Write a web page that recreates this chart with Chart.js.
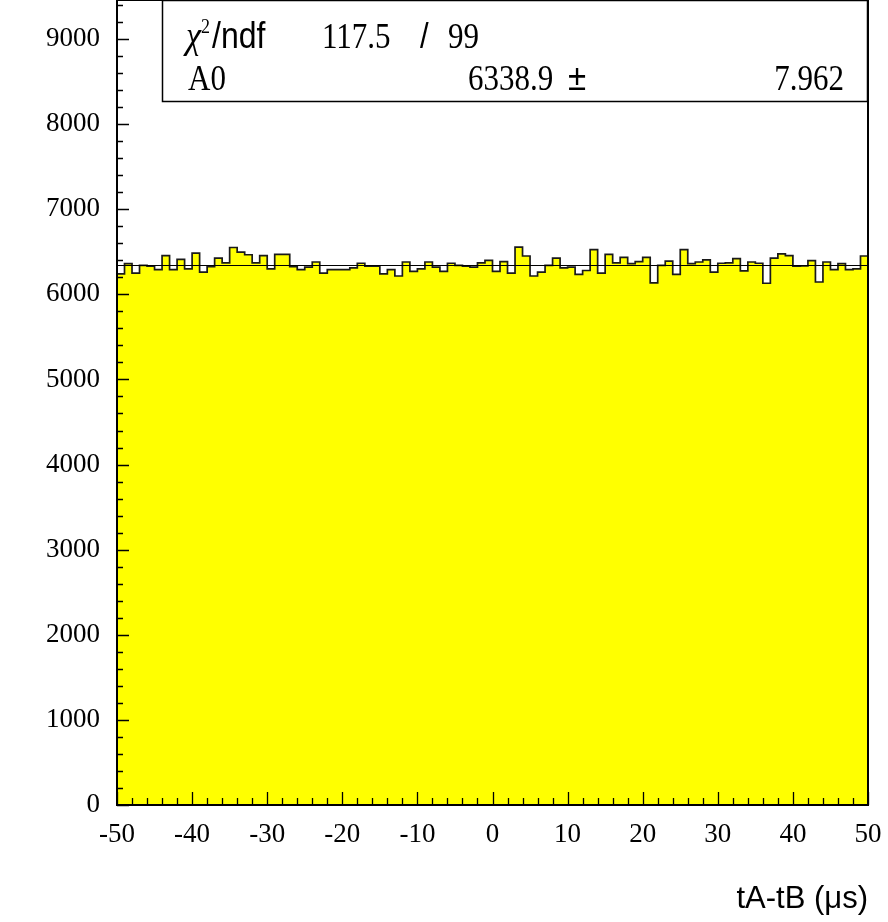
<!DOCTYPE html>
<html>
<head>
<meta charset="utf-8">
<script src="https://cdn.jsdelivr.net/npm/chart.js@4.4.0/dist/chart.umd.min.js"></script>
<style>
  html, body { margin: 0; padding: 0; background: #fff; }
</style>
</head>
<body>
<canvas id="histo" width="888" height="922"></canvas>
<script>
// tA-tB time difference, 100 bins of 1 us from -50 to 50, fitted with a constant (A0)
const binLow = -50;
const binHigh = 50;
const binWidth = 1;

// bin contents
const counts = [
  6240, 6360, 6250, 6340, 6330, 6290, 6455, 6290, 6410, 6300,
  6485, 6260, 6325, 6425, 6370, 6550, 6495, 6465, 6370, 6455,
  6300, 6470, 6470, 6325, 6290, 6320, 6380, 6250, 6290, 6290,
  6290, 6310, 6365, 6330, 6330, 6240, 6290, 6215, 6380, 6270,
  6300, 6380, 6320, 6270, 6365, 6340, 6330, 6320, 6370, 6400,
  6270, 6385, 6250, 6555, 6450, 6215, 6260, 6340, 6425, 6310,
  6320, 6235, 6280, 6525, 6250, 6470, 6370, 6435, 6360, 6385,
  6435, 6135, 6340, 6390, 6235, 6525, 6360, 6380, 6405, 6260,
  6365, 6370, 6420, 6275, 6380, 6365, 6130, 6425, 6475, 6455,
  6330, 6335, 6395, 6145, 6380, 6290, 6360, 6290, 6300, 6450
];

// fit result
const fitA0 = 6338.9;
const fitA0Err = "7.962";
const chi2 = "117.5";
const ndf = "99";

const yTicks = [0, 1000, 2000, 3000, 4000, 5000, 6000, 7000, 8000, 9000];
const xTicks = [-50, -40, -30, -20, -10, 0, 10, 20, 30, 40, 50];
const yMax = 9458;
const yMinorStep = 200;
const xMinorStep = 2;

// step histogram: one point per bin low edge, plus the closing edge
const histPoints = counts.map((c, i) => ({ x: binLow + i * binWidth, y: c }));
histPoints.push({ x: binHigh, y: counts[counts.length - 1] });

const serif = "'Liberation Serif', 'Times New Roman', serif";
const sans = "'Liberation Sans', Arial, sans-serif";

// text in the stats box is a bit stretched vertically in the original
function tallText(ctx, str, x, y, font, align) {
  ctx.save();
  ctx.font = font;
  ctx.textAlign = align || "left";
  ctx.translate(x, y);
  ctx.scale(1, 1.13);
  ctx.fillText(str, 0, 0);
  ctx.restore();
}

// ROOT-like frame, inward ticks and the fit statistics box
const rootFrame = {
  id: "rootFrame",
  afterDatasetsDraw(chart) {
    const { ctx, chartArea: a, scales } = chart;
    const x = scales.x, y = scales.y;
    ctx.save();
    ctx.strokeStyle = "#000";
    ctx.lineWidth = 1.3;
    ctx.beginPath();
    for (let v = 0; v <= yMax; v += yMinorStep) {
      const py = Math.round(y.getPixelForValue(v)) + 0.5;
      const len = v % 1000 === 0 ? 12 : 6;
      ctx.moveTo(a.left, py);
      ctx.lineTo(a.left + len, py);
    }
    for (let v = binLow; v <= binHigh; v += xMinorStep) {
      const px = Math.round(x.getPixelForValue(v)) + 0.5;
      const len = v % 10 === 0 ? 13 : 7;
      ctx.moveTo(px, a.bottom);
      ctx.lineTo(px, a.bottom - len);
    }
    ctx.stroke();

    ctx.lineWidth = 2;
    ctx.strokeRect(a.left, a.top, a.right - a.left, a.bottom - a.top);

    // stats box
    const bx = a.left + 45, by = a.top, bw = a.right - bx, bh = 101;
    ctx.fillStyle = "#fff";
    ctx.fillRect(bx, by, bw, bh);
    ctx.lineWidth = 1.5;
    ctx.strokeRect(bx + 0.5, by + 0.5, bw - 1, bh);

    ctx.fillStyle = "#000";
    ctx.textBaseline = "alphabetic";
    const r1 = by + 48, r2 = by + 90;
    tallText(ctx, "χ", bx + 24, r1, "italic 34px " + serif);
    tallText(ctx, "2", bx + 39, r1 - 15, "18px " + serif);
    tallText(ctx, "/ndf", bx + 50, r1, "32px " + sans);
    tallText(ctx, chi2, bx + 160, r1, "31px " + serif);
    tallText(ctx, "/", bx + 258, r1, "31px " + sans);
    tallText(ctx, ndf, bx + 286, r1, "31px " + serif);
    tallText(ctx, "A0", bx + 26, r2, "31px " + serif);
    tallText(ctx, fitA0.toFixed(1), bx + 306, r2, "31px " + serif);
    tallText(ctx, "±", bx + 406, r2, "33px " + sans);
    tallText(ctx, fitA0Err, bx + bw - 24, r2, "31px " + serif, "right");
    ctx.restore();
  }
};

new Chart(document.getElementById("histo"), {
  type: "line",
  data: {
    datasets: [
      {
        label: "fit",
        data: [{ x: binLow, y: fitA0 }, { x: binHigh, y: fitA0 }],
        borderColor: "#000",
        borderWidth: 1.2,
        pointRadius: 0,
        fill: false,
        order: 1
      },
      {
        label: "tA-tB",
        data: histPoints,
        stepped: "before",
        borderColor: "#1a1a1a",
        borderWidth: 1.7,
        backgroundColor: "#ffff00",
        fill: "origin",
        pointRadius: 0,
        order: 2
      }
    ]
  },
  options: {
    responsive: false,
    animation: false,
    layout: { padding: { top: 0, right: 20, bottom: 0, left: 0 } },
    plugins: { legend: { display: false }, tooltip: { enabled: false } },
    scales: {
      x: {
        type: "linear",
        min: binLow,
        max: binHigh,
        afterBuildTicks: (s) => { s.ticks = xTicks.map((v) => ({ value: v })); },
        afterFit: (s) => { s.height = 117; s.paddingLeft = 0; s.paddingRight = 0; },
        grid: { display: false, drawTicks: false },
        border: { display: false },
        ticks: {
          padding: 14,
          color: "#000",
          maxRotation: 0,
          autoSkip: false,
          font: { family: serif, size: 27 },
          callback: (v) => String(v)
        },
        title: {
          display: true,
          text: "tA-tB (μs)",
          align: "end",
          color: "#000",
          font: { family: sans, size: 31 },
          padding: { top: 0, bottom: 4 }
        }
      },
      y: {
        type: "linear",
        min: 0,
        max: yMax,
        afterBuildTicks: (s) => { s.ticks = yTicks.map((v) => ({ value: v })); },
        afterFit: (s) => { s.width = 117; s.paddingTop = 0; s.paddingBottom = 0; },
        grid: { display: false, drawTicks: false },
        border: { display: false },
        ticks: {
          padding: 17,
          color: "#000",
          autoSkip: false,
          font: { family: serif, size: 27 },
          callback: (v) => String(v)
        }
      }
    }
  },
  plugins: [rootFrame]
});
</script>
</body>
</html>
